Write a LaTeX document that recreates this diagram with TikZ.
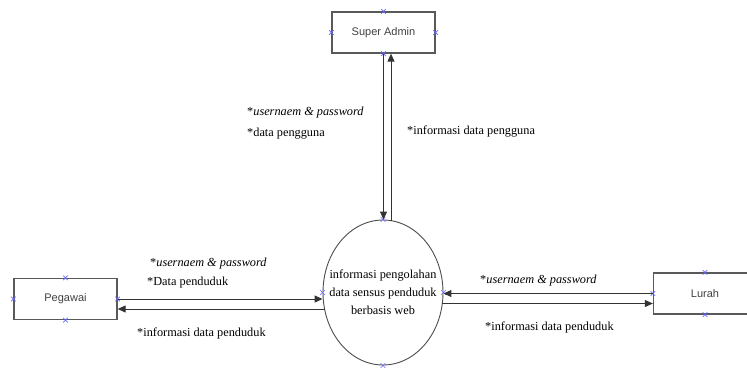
\documentclass[tikz,border=0pt]{standalone}
\usepackage{fontspec}
\setmainfont{Liberation Serif}
\newfontfamily\arialfont{Liberation Sans}
\usetikzlibrary{calc, shapes.geometric, shapes.misc, arrows.meta}

\begin{document}
\begin{tikzpicture}[x=1pt, y=-1pt,
  entitas/.style={draw=black!65, line width=1.3pt, minimum width=103pt,
    minimum height=41pt, inner sep=0pt, text=black!75,
    font=\arialfont\fontsize{11}{13}\selectfont},
  proses/.style={draw=black!70, line width=0.9pt, ellipse, inner sep=0pt,
    minimum width=120pt, minimum height=145pt},
  arus/.style={draw=black!80, line width=1pt, -{Triangle[length=8pt, width=7pt]}},
  ket/.style={anchor=west, inner sep=0pt, text=black,
    font=\fontsize{12.3}{14}\selectfont},
  titik/.style={cross out, draw=blue!60, line width=0.6pt, minimum size=4pt, inner sep=0pt}]
  \useasboundingbox (0,0) rectangle (747,367);

  % entitas luar dan proses
  \node[entitas] (admin) at (383.5, 32.5) {Super Admin};
  \node[entitas] (pegawai) at (65.5, 299) {Pegawai};
  \node[entitas] (lurah) at (705, 293.5) {Lurah};
  \node[proses] (sistem) at (383, 292.5) {};
  \node[align=center, inner sep=0pt, text=black,
    font=\fontsize{12.3}{18}\selectfont] (sistemteks) at (sistem)
    {informasi pengolahan\\data sensus penduduk\\berbasis web};

  % titik sambung
  \foreach \t in {admin.north, admin.south, admin.west, admin.east,
                  pegawai.north, pegawai.south, pegawai.west, pegawai.east,
                  lurah.north, lurah.south, lurah.west,
                  sistem.north, sistem.south, sistem.west, sistem.east}
    \node[titik] at (\t) {};

  % arus data Super Admin
  \draw[arus] (admin.south) -- (admin.south |- sistem.north);
  \draw[arus] ($(sistem.north)+(8,1)$) -- ($(admin.south)+(7.5,0)$);
  \node[ket] (l1) at (247, 113) {*\textit{usernaem \& password}};
  \node[ket] (l2) at (247, 134) {*data pengguna};
  \node[ket] (l3) at (407, 131) {*informasi data pengguna};

  % arus data Pegawai
  \draw[arus] (pegawai.east) -- (pegawai.east -| sistem.west);
  \draw[arus] ($(pegawai.east -| sistem.west)+(2.5,10)$) -- ($(pegawai.east)+(0,10)$);
  \node[ket] (l4) at (150, 264) {*\textit{usernaem \& password}};
  \node[ket] (l5) at (147, 283) {*Data penduduk};
  \node[ket] (l6) at (137, 333) {*informasi data penduduk};

  % arus data Lurah
  \draw[arus] (lurah.west) -- (lurah.west -| sistem.east);
  \draw[arus] ($(lurah.west -| sistem.east)+(-1.5,10)$) -- ($(lurah.west)+(0,10)$);
  \node[ket] (l7) at (480, 281) {*\textit{usernaem \& password}};
  \node[ket] (l8) at (485, 327) {*informasi data penduduk};
\end{tikzpicture}
\end{document}
